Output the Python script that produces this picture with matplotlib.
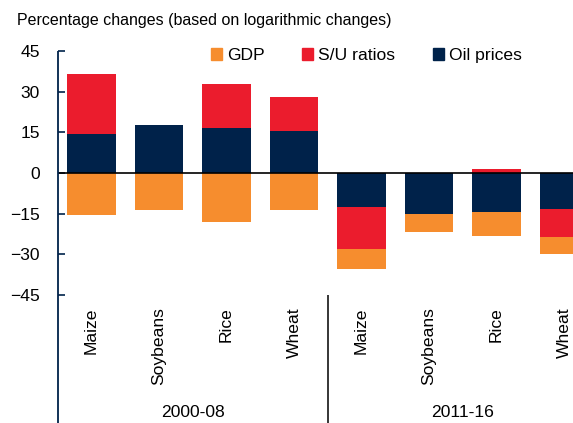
import numpy as np
import matplotlib
matplotlib.use("Agg")
import matplotlib.pyplot as plt
from matplotlib.patches import Patch
from matplotlib.transforms import blended_transform_factory

plt.rcParams["font.family"] = ["Liberation Sans", "DejaVu Sans"]
FS, TFS = 12.6, 11.5

crops = ["Maize", "Soybeans", "Rice", "Wheat"]
periods = ["2000-08", "2011-16"]
categories = crops * len(periods)

oil = [14.5, 17.6, 16.7, 15.6, -12.7, -15.2, -14.4, -13.3]
su = [21.9, 0.0, 16.2, 12.3, -15.4, 0.0, 1.3, -10.2]
gdp = [-15.6, -13.6, -18.0, -13.7, -7.3, -6.5, -8.8, -6.5]

NAVY = "#00224a"
RED = "#eb1c2d"
ORANGE = "#f68d2e"

fig = plt.figure(figsize=(5.73, 4.23), dpi=100)
# axes runs past the right edge on purpose: the reference is cropped there
ax = fig.add_axes([57.7 / 573, 1 - 295 / 423, 540 / 573, 244 / 423])

x = np.arange(len(categories))
w = 0.72
pos_base = np.zeros(len(x))
neg_base = np.zeros(len(x))
for vals, col in [(oil, NAVY), (su, RED), (gdp, ORANGE)]:
    v = np.array(vals)
    base = np.where(v >= 0, pos_base, neg_base)
    ax.bar(x, v, w, bottom=base, color=col, linewidth=0, zorder=2)
    pos_base += np.clip(v, 0, None)
    neg_base += np.clip(v, None, 0)

ax.axhline(0, color="black", lw=1.2, zorder=3)
ax.set_xlim(-0.5, len(x) - 0.5)
ax.set_ylim(-45, 45)
ax.set_yticks(np.arange(-45, 46, 15))
ax.tick_params(axis="y", direction="in", length=5, width=1.2, color=NAVY,
               pad=13, labelsize=FS)
ax.set_xticks(x)
ax.set_xticklabels(categories, rotation=90, va="top", ha="center", fontsize=FS)
ax.tick_params(axis="x", length=0, pad=9)

for s in ["top", "right", "bottom", "left"]:
    ax.spines[s].set_visible(False)

# y axis line, carried down through the category area
bt = blended_transform_factory(ax.transData, ax.transAxes)
ax.plot([-0.5, -0.5], [1, -0.53], transform=bt, color=NAVY, lw=1.3,
        clip_on=False, solid_capstyle="butt", zorder=4)
# group separator
ax.plot([3.5, 3.5], [0, -0.53], transform=bt, color="black", lw=1.1,
        clip_on=False, solid_capstyle="butt")

ft = blended_transform_factory(ax.transData, fig.transFigure)
for i, p in enumerate(periods):
    ax.text(i * 4 + 1.5, 1 - 412 / 423, p, transform=ft, ha="center",
            va="center", fontsize=FS)

fig.text(17 / 573, 1 - 21 / 423, "Percentage changes (based on logarithmic changes)",
         ha="left", va="center", fontsize=TFS)

handles = [Patch(color=ORANGE, label="GDP"), Patch(color=RED, label="S/U ratios"),
           Patch(color=NAVY, label="Oil prices")]
fig.legend(handles=handles, ncol=3, loc="center left",
           bbox_to_anchor=(211 / 573, 1 - 55.5 / 423), frameon=False,
           fontsize=FS, borderpad=0, borderaxespad=0, handlelength=0.62,
           handleheight=0.62, handletextpad=0.3, columnspacing=2.15)

fig.savefig("out.png", dpi=100)
